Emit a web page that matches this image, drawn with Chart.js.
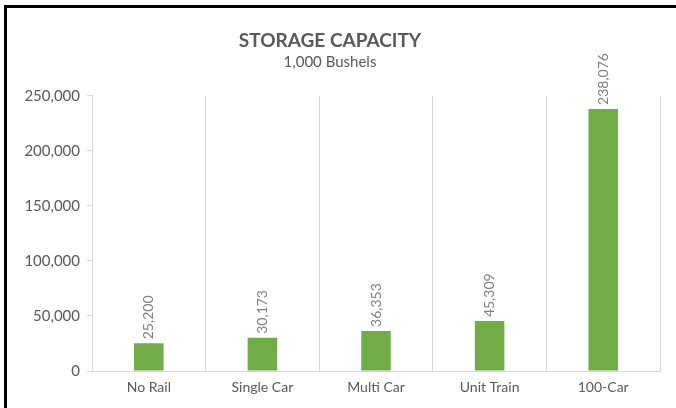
<!DOCTYPE html>
<html>
<head>
<meta charset="utf-8">
<script src="https://cdn.jsdelivr.net/npm/chart.js@4/dist/chart.umd.min.js"></script>
<style>
  html, body { margin: 0; padding: 0; background: #fff; overflow: hidden; }
  #wrap { position: relative; width: 676px; height: 408px; }
  #frame { position: absolute; left: 4px; top: 5px; right: 0; bottom: -10px;
           border-left: 3px solid #000; border-top: 3px solid #000; pointer-events: none; }
  canvas { position: absolute; left: 0; top: 0; }
</style>
</head>
<body>
<div id="wrap">
  <canvas id="chart" width="676" height="408"></canvas>
  <div id="frame"></div>
</div>
<script>
// Данные графика
const categories = ['No Rail', 'Single Car', 'Multi Car', 'Unit Train', '100-Car'];
const capacity = [25200, 30173, 36353, 45309, 238076];
const yTicks = [0, 50000, 100000, 150000, 200000, 250000];

const fmt = v => v.toLocaleString('en-US');

// Подписи значений над столбцами (повёрнуты вертикально)
const barLabels = {
    id: 'barLabels',
    afterDatasetsDraw(chart) {
        const ctx = chart.ctx;
        const meta = chart.getDatasetMeta(0);
        ctx.save();
        ctx.font = '14px Lato';
        ctx.fillStyle = '#7f7f7f';
        ctx.textAlign = 'left';
        ctx.textBaseline = 'middle';
        meta.data.forEach((bar, i) => {
            ctx.save();
            ctx.translate(bar.x, bar.y - 4);
            ctx.rotate(-Math.PI / 2);
            ctx.fillText(fmt(capacity[i]), 0, 0);
            ctx.restore();
        });
        ctx.restore();
    }
};

document.addEventListener('DOMContentLoaded', function() {
    const ctx = document.getElementById('chart').getContext('2d');
    new Chart(ctx, {
        type: 'bar',
        data: {
            labels: categories,
            datasets: [{
                data: capacity,
                backgroundColor: '#70ad47',
                barPercentage: 0.26,
                categoryPercentage: 1
            }]
        },
        options: {
            responsive: false,
            animation: false,
            layout: { padding: { left: 0, right: 16, top: 0, bottom: 0 } },
            plugins: {
                legend: { display: false },
                tooltip: { enabled: false },
                title: {
                    display: true,
                    text: 'STORAGE CAPACITY',
                    color: '#595959',
                    font: { family: 'Lato', size: 19, weight: 'bold' },
                    padding: { top: 29, bottom: 0 }
                },
                subtitle: {
                    display: true,
                    text: '1,000 Bushels',
                    color: '#595959',
                    font: { family: 'Lato', size: 15 },
                    padding: { top: 1, bottom: 25 }
                }
            },
            scales: {
                x: {
                    grid: { offset: true, color: '#d9d9d9', drawTicks: false },
                    border: { color: '#d9d9d9' },
                    ticks: { color: '#595959', font: { family: 'Lato', size: 14 }, padding: 8 },
                    afterFit(scale) { scale.height = 37; }
                },
                y: {
                    min: 0,
                    max: 250000,
                    afterBuildTicks(scale) { scale.ticks = yTicks.map(v => ({ value: v })); },
                    grid: { drawOnChartArea: false, color: '#d9d9d9', tickLength: 5 },
                    border: { color: '#d9d9d9' },
                    ticks: {
                        color: '#595959',
                        font: { family: 'Lato', size: 15 },
                        padding: 7,
                        callback: v => fmt(v)
                    },
                    afterFit(scale) { scale.width = 92; }
                }
            }
        },
        plugins: [barLabels]
    });
});
</script>
</body>
</html>
